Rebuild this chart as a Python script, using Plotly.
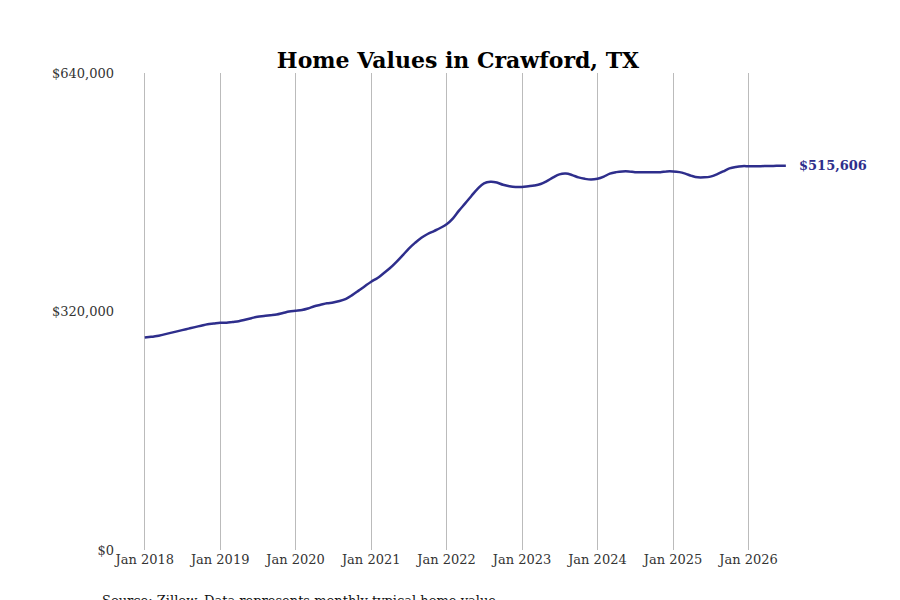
import pandas as pd
import plotly.graph_objects as go

# monthly typical home value, thousands of dollars, Jan 2018 - Jul 2026
values_k = [
    285, 286, 287, 289, 291, 293, 295, 297, 299, 301, 303, 304,
    305, 305, 306, 307, 309, 311, 313, 314, 315, 316, 318, 320,
    321, 322, 324, 327, 329, 331, 332, 334, 337, 342, 348, 354,
    360, 365, 371, 378, 386, 395, 404, 412, 419, 424, 428, 432,
    437, 445, 455, 465, 475, 485, 492, 494, 493, 490, 488, 487,
    487, 488, 489, 491, 495, 500, 504, 505, 503, 500, 498, 497,
    498, 501, 505, 507, 508, 508, 507, 507, 507, 507, 507, 508,
    508, 507, 505, 502, 500, 500, 501, 504, 508, 512, 514, 515,
    515, 515, 515, 515.2, 515.3, 515.5, 515.606,
]
dates = pd.date_range("2018-01-01", periods=len(values_k), freq="MS")
values = [v * 1000 for v in values_k]

tick_dates = pd.date_range("2018-01-01", "2026-01-01", freq="YS")
tick_labels = [f"Jan {d.year}" for d in tick_dates]

line_color = "#2e2e8c"
font = "DejaVu Serif, serif"

fig = go.Figure(go.Scatter(x=dates, y=values, mode="lines",
                           line=dict(color=line_color, width=2.5, shape="spline"),
                           hoverinfo="skip"))

fig.add_annotation(x=dates[-1], y=values[-1], text=f"<b>${values[-1]:,.0f}</b>",
                   showarrow=False, xanchor="left", xshift=11,
                   font=dict(size=13, color=line_color, family=font))

fig.add_annotation(text="Source: Zillow. Data represents monthly typical home value",
                   xref="paper", yref="paper", x=-0.02, y=-0.085, xanchor="left",
                   yanchor="top", showarrow=False,
                   font=dict(size=13, color="#111", family=font))

fig.update_layout(
    width=900, height=600,
    plot_bgcolor="white", paper_bgcolor="white",
    margin=dict(l=107, r=30, t=65, b=58),
    title=dict(text="<b>Home Values in Crawford, TX</b>", x=0.5, xanchor="center",
               y=0.925, font=dict(size=22, color="black", family=font)),
    font=dict(family=font, size=13, color="#333"),
    showlegend=False,
)
fig.update_xaxes(range=["2017-08-10", "2027-09-20"], tickvals=tick_dates,
                 ticktext=tick_labels, showgrid=True, gridcolor="#bbbbbb",
                 gridwidth=1, zeroline=False, showline=False, ticks="")
fig.update_yaxes(range=[0, 640000], tickvals=[0, 320000, 640000],
                 ticktext=["$0", "$320,000", "$640,000"], showgrid=False,
                 zeroline=False, showline=False, ticks="")

fig.write_html("out.html")
